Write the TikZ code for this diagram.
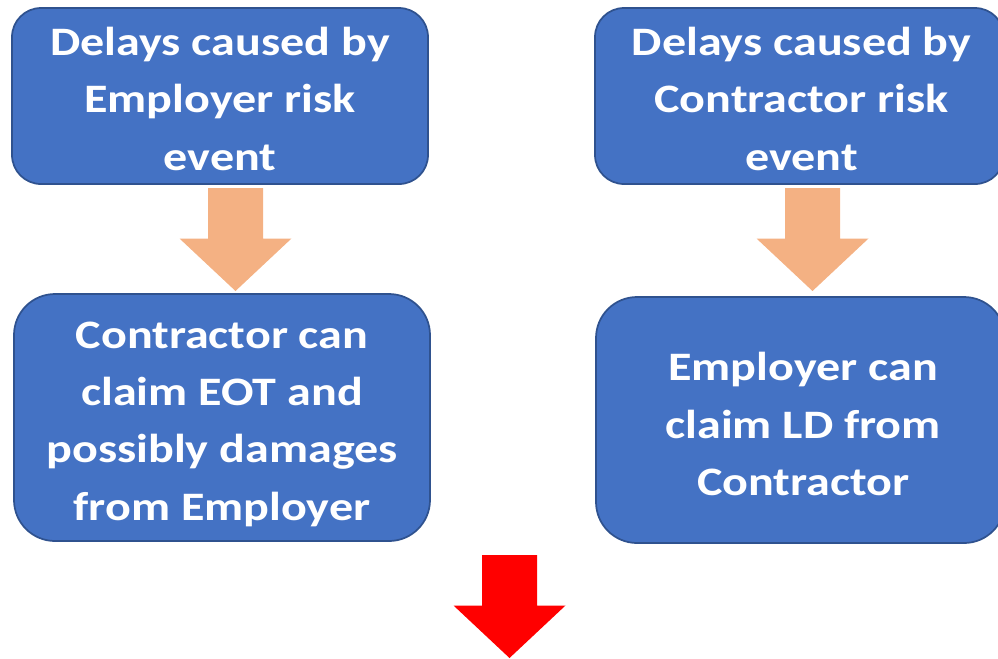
\documentclass[tikz,border=0pt]{standalone}
\usepackage{fontspec}
\setmainfont{Carlito}[FakeStretch=1.19]
\definecolor{boxfill}{HTML}{4472C4}
\definecolor{boxedge}{HTML}{2F528F}
\definecolor{softorange}{HTML}{F4B183}
\definecolor{alertred}{HTML}{FF0000}
\begin{document}
\begin{tikzpicture}[x=0.75pt,y=-0.75pt,
  box/.style={draw=boxedge, fill=boxfill, line width=1.3pt,
    inner sep=0pt, minimum width=312pt},
  topbox/.style={box, minimum height=132pt, rounded corners=21.75pt},
  lowbox/.style={box, minimum height=185.25pt, rounded corners=30.75pt},
  boxtext/.style={text=white, font=\bfseries\fontsize{30.3}{43}\selectfont,
    align=center, inner sep=0pt},
  blockdown/.pic={
    \path[pic actions] (-27.5,0) -- (27.5,0) -- (27.5,50.5) -- (56,50.5)
      -- (0,103) -- (-56,50.5) -- (-27.5,50.5) -- cycle;
  }]
  \useasboundingbox (0,0) rectangle (998,658);

  % upper boxes: the risk events
  \node[topbox] (empRisk) at (220,96) {};
  \node[boxtext] (empRiskText) at ([yshift=-2pt]empRisk.center)
    {Delays caused by\\Employer risk\\event};
  \node[topbox, minimum width=306.75pt] (conRisk) at (799.5,96) {};
  \node[boxtext] (conRiskText) at ([xshift=1.5pt,yshift=-2pt]conRisk.center)
    {Delays caused by\\Contractor risk\\event};

  % lower boxes: the resulting claims
  \node[lowbox] (conClaim) at (222,417.5) {};
  \node[boxtext] (conClaimText) at ([yshift=-5pt]conClaim.center)
    {Contractor can\\claim EOT and\\possibly damages\\from Employer};
  \node[lowbox, minimum width=306.75pt, minimum height=184.5pt] (empClaim) at (800.5,420) {};
  \node[boxtext] (empClaimText) at ([xshift=2pt,yshift=-3pt]empClaim.center)
    {Employer can\\claim LD from\\Contractor};

  % block arrows between the boxes
  \coordinate (arrowA) at (235.5,188);
  \coordinate (arrowB) at (812.5,188);
  \coordinate (arrowC) at (509.5,555);
  \pic[fill=softorange] at (arrowA) {blockdown};
  \pic[fill=softorange] at (arrowB) {blockdown};
  \pic[fill=alertred] at (arrowC) {blockdown};
\end{tikzpicture}
\end{document}
